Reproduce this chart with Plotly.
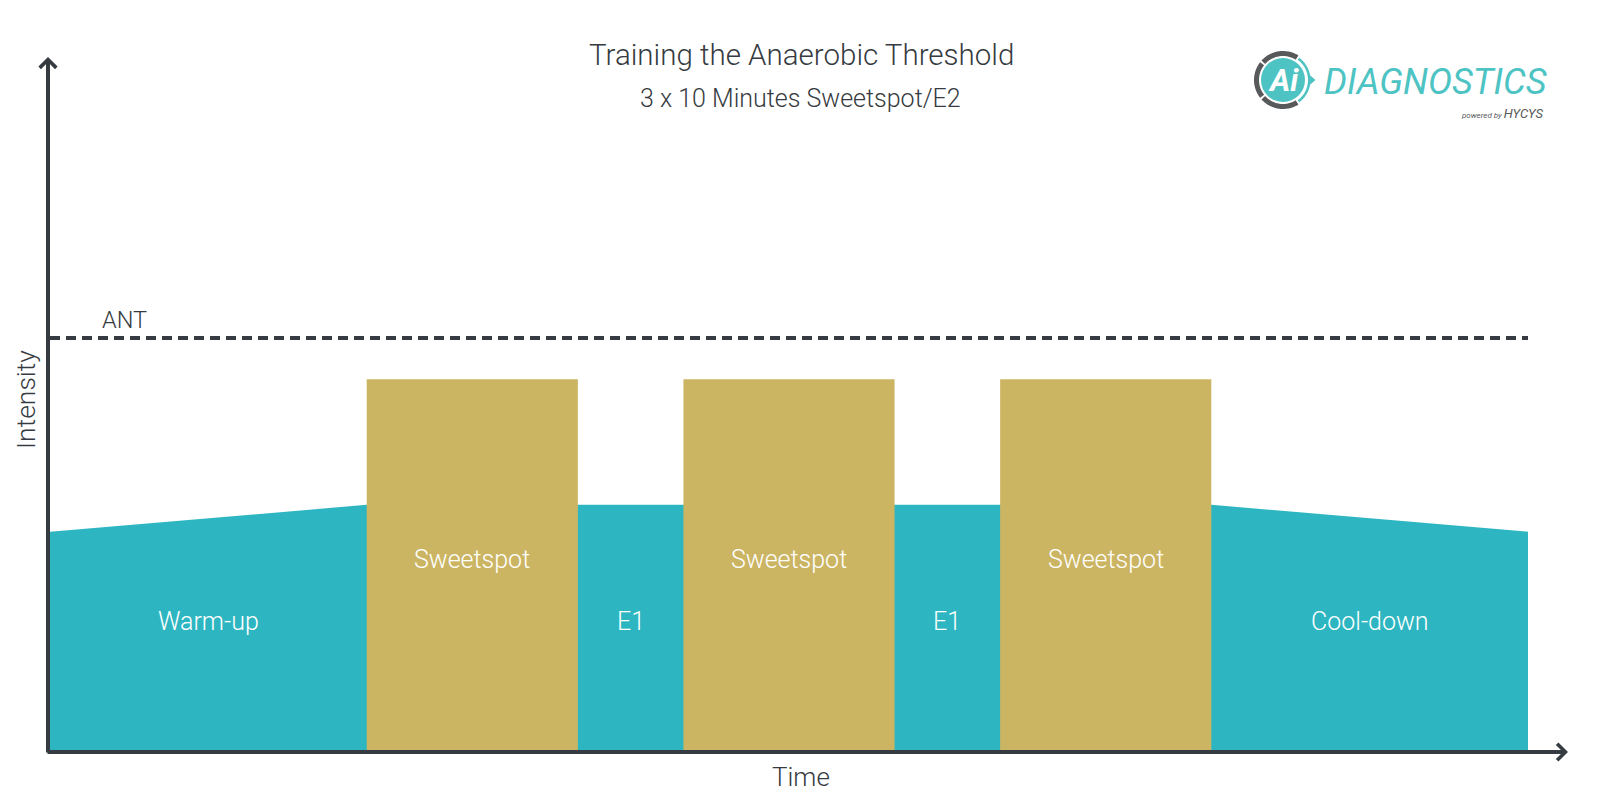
import plotly.graph_objects as go
import numpy as np

# ---------------- data ----------------
phases = ["Warm-up", "Sweetspot", "E1", "Sweetspot", "E1", "Sweetspot", "Cool-down"]
durations = [15, 10, 5, 10, 5, 10, 15]          # minutes
start_intensity = [53, 90, 59.5, 90, 59.5, 90, 59.5]
end_intensity = [59.5, 90, 59.5, 90, 59.5, 90, 53]
e1_level = 59.5
ant_level = 100
title = "Training the Anaerobic Threshold"
subtitle = "3 x 10 Minutes Sweetspot/E2"

TEAL = "#2db6c1"
GOLD = "#cbb563"
DARK = "#363b41"
WHITE = "#ffffff"
LOGO_TEAL = "#4dc3c3"
LOGO_GRAY = "#58595b"
FONT = "Roboto"

# ---------------- geometry (pixel mapping) ----------------
W, H = 1600, 800
total = sum(durations)
x0_px, x1_px = 50, 1528
kx = (x1_px - x0_px) / total          # px per minute
base_px = 750
ky = 4.12                             # px per intensity unit


def dx(px):
    return (px - x0_px) / kx


def dy(py):
    return (base_px - py) / ky


starts = np.concatenate([[0], np.cumsum(durations)[:-1]])
ends = np.cumsum(durations)

fig = go.Figure()

# teal (non-sweetspot) area, running under the sweetspot blocks at E1 level
tx, ty = [], []
for p, s, e, a, b in zip(phases, starts, ends, start_intensity, end_intensity):
    tx += [s, e]
    if p == "Sweetspot":
        ty += [e1_level, e1_level]
    else:
        ty += [a, b]
fig.add_trace(go.Scatter(x=tx, y=ty, mode="lines", fill="tozeroy",
                         fillcolor=TEAL, line=dict(width=0, color=TEAL),
                         hoverinfo="skip", showlegend=False))

# gold sweetspot blocks
gx, gy = [], []
for p, s, e, a in zip(phases, starts, ends, start_intensity):
    if p == "Sweetspot":
        gx += [s, s, e, e, s, None]
        gy += [0, a, a, 0, 0, None]
fig.add_trace(go.Scatter(x=gx, y=gy, mode="lines", fill="toself",
                         fillcolor=GOLD, line=dict(width=0, color=GOLD),
                         hoverinfo="skip", showlegend=False))

shapes = []
annotations = []

# ANT dashed line
shapes.append(dict(type="line", xref="x", yref="y", x0=0, x1=total, y0=ant_level, y1=ant_level,
                   line=dict(color=DARK, width=4, dash="10px,6px"), layer="above"))
annotations.append(dict(x=dx(124), y=dy(320), xref="x", yref="y", text="ANT", showarrow=False,
                        font=dict(family=FONT, size=23.5, color=DARK, weight=300)))

# phase labels
for p, s, e in zip(phases, starts, ends):
    ypos = dy(559) if p == "Sweetspot" else dy(621)
    annotations.append(dict(x=(s + e) / 2, y=ypos, xref="x", yref="y", text=p, showarrow=False,
                            font=dict(family=FONT, size=25, color=WHITE, weight=300)))

# axes as arrows
annotations.append(dict(x=dx(48), y=dy(57), ax=dx(48), ay=dy(754), xref="x", yref="y",
                        axref="x", ayref="y", text="", showarrow=True, arrowhead=4,
                        arrowsize=0.8, arrowwidth=4, arrowcolor=DARK))
annotations.append(dict(x=dx(1568), y=dy(752), ax=dx(46), ay=dy(752), xref="x", yref="y",
                        axref="x", ayref="y", text="", showarrow=True, arrowhead=4,
                        arrowsize=0.8, arrowwidth=4, arrowcolor=DARK))

# axis titles
annotations.append(dict(x=dx(801), y=dy(777), xref="x", yref="y", text="Time", showarrow=False,
                        font=dict(family=FONT, size=26, color=DARK, weight=300)))
annotations.append(dict(x=dx(25), y=dy(400), xref="x", yref="y", text="Intensity", showarrow=False,
                        textangle=-90,
                        font=dict(family=FONT, size=26.5, color=DARK, weight=300)))

# title / subtitle
annotations.append(dict(x=dx(801), y=dy(55), xref="x", yref="y", text=title, showarrow=False,
                        font=dict(family=FONT, size=29.5, color=DARK, weight=300)))
annotations.append(dict(x=dx(800), y=dy(98), xref="x", yref="y", text=subtitle, showarrow=False,
                        font=dict(family=FONT, size=25, color=DARK, weight=300)))

# ---------------- logo ----------------
cx, cy = dx(1283), dy(80)


def arc_path(r_out, r_in, a0, a1, n=40):
    t = np.radians(np.linspace(a0, a1, n))
    pts = [(r_out * np.cos(a), r_out * np.sin(a)) for a in t]
    pts += [(r_in * np.cos(a), r_in * np.sin(a)) for a in t[::-1]]
    return "M " + " L ".join(f"{px:.2f} {py:.2f}" for px, py in pts) + " Z"


# gray ring segments (with small notches)
for a0, a1 in [(58, 138), (142, 218), (222, 302)]:
    shapes.append(dict(type="path", xref="x", yref="y", xsizemode="pixel", ysizemode="pixel",
                       xanchor=cx, yanchor=cy, path=arc_path(29, 24, a0, a1),
                       line=dict(width=0), fillcolor=LOGO_GRAY))
# teal right arc with pointer
shapes.append(dict(type="path", xref="x", yref="y", xsizemode="pixel", ysizemode="pixel",
                   xanchor=cx, yanchor=cy, path=arc_path(27.5, 25, -54, 54),
                   line=dict(width=0), fillcolor=LOGO_TEAL))
shapes.append(dict(type="path", xref="x", yref="y", xsizemode="pixel", ysizemode="pixel",
                   xanchor=cx, yanchor=cy, path="M 25.5 -6 L 32.5 0 L 25.5 6 Z",
                   line=dict(width=0), fillcolor=LOGO_TEAL))
# teal disk
shapes.append(dict(type="circle", xref="x", yref="y", xsizemode="pixel", ysizemode="pixel",
                   xanchor=cx, yanchor=cy, x0=-22, x1=22, y0=-22, y1=22,
                   line=dict(width=0), fillcolor=LOGO_TEAL))
annotations.append(dict(x=cx, y=cy, xref="x", yref="y", text="<b><i>Ai</i></b>", showarrow=False,
                        font=dict(family=FONT, size=31, color=WHITE)))
annotations.append(dict(x=dx(1549), y=dy(82), xref="x", yref="y", xanchor="right",
                        text="<i>DIAGNOSTICS</i>", showarrow=False,
                        font=dict(family=FONT, size=36, color=LOGO_TEAL)))
annotations.append(dict(x=dx(1546), y=dy(113), xref="x", yref="y", xanchor="right",
                        text="<i><span style='font-size:8px'>powered by </span>HYCYS</i>",
                        showarrow=False, font=dict(family=FONT, size=13, color=LOGO_GRAY)))

fig.update_layout(
    width=W, height=H,
    margin=dict(l=0, r=0, t=0, b=0),
    paper_bgcolor=WHITE, plot_bgcolor=WHITE,
    xaxis=dict(range=[dx(0), dx(W)], visible=False, fixedrange=True),
    yaxis=dict(range=[dy(H), dy(0)], visible=False, fixedrange=True),
    shapes=shapes,
    annotations=annotations,
    showlegend=False,
)

fig.write_html("out.html")
